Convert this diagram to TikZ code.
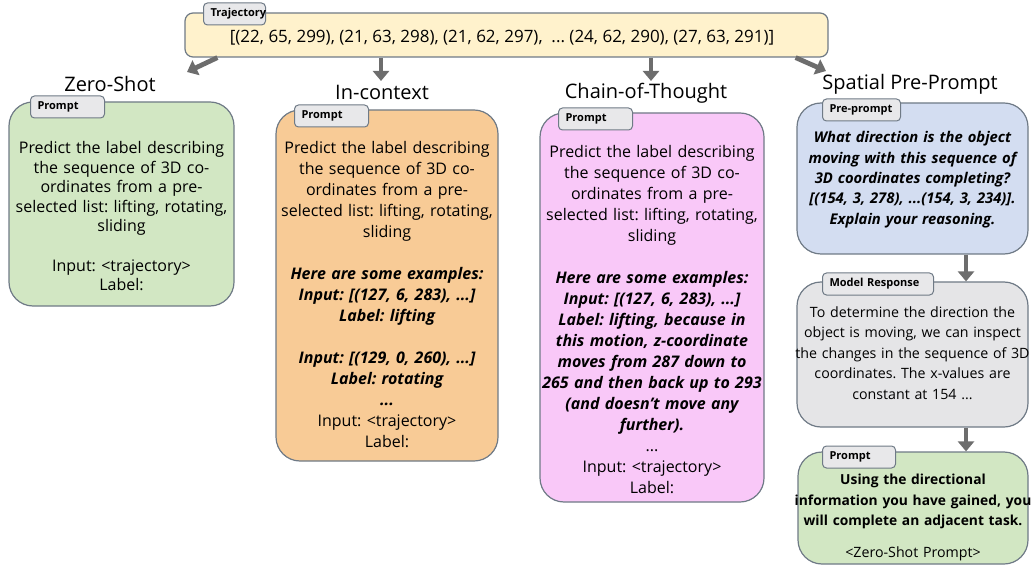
\documentclass[tikz,border=0pt]{standalone}
\usepackage{fontspec}
\setmainfont{Open Sans}
\frenchspacing
\usetikzlibrary{arrows.meta,fit,positioning}
\definecolor{trajfill}{HTML}{FFF2CC}
\definecolor{zsfill}{HTML}{D2E7C3}
\definecolor{icfill}{HTML}{F8CB96}
\definecolor{cotfill}{HTML}{F9C8F8}
\definecolor{spfill}{HTML}{D3DDF1}
\definecolor{mrfill}{HTML}{E5E5E7}
\definecolor{tagfill}{HTML}{E8E8EA}
\definecolor{boxline}{HTML}{6F7A86}
\definecolor{arrowgrey}{HTML}{6D6D6D}

\begin{document}
\begin{tikzpicture}[x=0.5pt,y=-0.5pt,% one unit is one pixel of the reference
    every node/.style={align=center, inner sep=0pt},
    box/.style={draw=boxline, line width=0.6pt, rounded corners=12pt, inner sep=0pt},
    tag/.style={draw=boxline, fill=tagfill, line width=0.5pt, rounded corners=2pt,
      anchor=west, align=left, inner xsep=3.5pt, minimum height=11pt,
      font=\fontsize{5.5}{7}\selectfont\bfseries},
    body/.style={anchor=north, text width=140pt,
      font=\fontsize{8}{10.5}\selectfont},
    side/.style={anchor=north, text width=140pt,
      font=\fontsize{7.1}{10.25}\selectfont},
    title/.style={font=\fontsize{10}{12}\selectfont},
    flow/.style={draw=arrowgrey, line width=2.4pt, -{Triangle[length=5pt,width=8pt]}}
  ]
  \useasboundingbox (0,0) rectangle (1031,566);

  % trajectory
  \node[box, fill=trajfill, rounded corners=4pt, fit={(185,13) (828,57)}] (traj) {};
  \node[font=\fontsize{8.5}{10}\selectfont] (trajtext) at (502,38)
    {[(22, 65, 299), (21, 63, 298), (21, 62, 297), \ ... (24, 62, 290), (27, 63, 291)]};
  \node[tag, text width=24pt] (trajtag) at (203,14) {Trajectory};

  % titles
  \node[title] (zstitle) at (110,84) {Zero-Shot};
  \node[title] (ictitle) at (382,92) {In-context};
  \node[title] (cottitle) at (646,93) {Chain-of-Thought};
  \node[title] (sptitle) at (910,84) {Spatial Pre-Prompt};

  % zero-shot
  \node[box, fill=zsfill, fit={(9,102) (234,306)}] (zs) {};
  \node[tag, text width=30pt] (zstag) at (30,107) {Prompt};
  \node[body, font=\fontsize{8}{9.8}\selectfont] (zstext) at (121.5,141)
    {Predict the label describing\\the sequence of 3D co-\\ordinates from a pre-\\selected list: lifting, rotating,\\sliding\\[9.8pt]
     Input: <trajectory>\\Label:};

  % in-context
  \node[box, fill=icfill, fit={(276,110) (498,461)}] (ic) {};
  \node[tag, text width=30pt] (ictag) at (294,116) {Prompt};
  \node[body] (ictext) at (387,141)
    {Predict the label describing\\the sequence of 3D co-\\ordinates from a pre-\\selected list: lifting, rotating,\\sliding\\[10.5pt]
     {\bfseries\itshape Here are some examples:\\Input: [(127, 6, 283), ...]\\Label: lifting\\[10.5pt]
     Input: [(129, 0, 260), ...]\\Label: rotating\\...}\\
     Input: <trajectory>\\Label:};

  % chain-of-thought
  \node[box, fill=cotfill, fit={(540,113) (764,502)}] (cot) {};
  \node[tag, text width=30pt] (cottag) at (558,119) {Prompt};
  \node[body] (cottext) at (652,145)
    {Predict the label describing\\the sequence of 3D co-\\ordinates from a pre-\\selected list: lifting, rotating,\\sliding\\[10.5pt]
     {\bfseries\itshape Here are some examples:\\Input: [(127, 6, 283), ...]\\Label: lifting, because in\\this motion, z-coordinate\\moves from 287 down to\\265 and then back up to 293\\(and doesn't move any\\further).}\\
     ...\\Input: <trajectory>\\Label:};

  % spatial pre-prompt column
  \node[box, fill=spfill, fit={(797,103) (1028,254)}] (sp) {};
  \node[tag, text width=32pt] (sptag) at (822,110) {Pre-prompt};
  \node[side, font=\fontsize{7.4}{10.2}\selectfont\bfseries\itshape] (sptext) at (912.5,131)
    {What direction is the object\\moving with this sequence of\\3D coordinates completing?\\{[}(154, 3, 278), ...(154, 3, 234)].\\Explain your reasoning.};

  \node[box, fill=mrfill, fit={(797,282) (1028,427)}] (mr) {};
  \node[tag, text width=48.5pt] (mrtag) at (822,284) {Model Response};
  \node[side] (mrtext) at (912.5,306)
    {To determine the direction the\\object is moving, we can inspect\\the changes in the sequence of 3D\\coordinates. The x-values are\\constant at 154 ...};

  \node[box, fill=zsfill, fit={(798,452) (1028,564)}] (bp) {};
  \node[tag, text width=29.5pt] (bptag) at (822,457) {Prompt};
  \node[side] (bptext) at (913,474)
    {\fontsize{6.9}{10.25}\selectfont\bfseries Using the directional\\information you have gained, you\\will complete an adjacent task.\\[5.5pt]
     \fontsize{7.1}{10.25}\selectfont\mdseries <Zero-Shot Prompt>};

  % connectors
  \coordinate (zsin) at (187,72);
  \coordinate (icin) at (381,81);
  \coordinate (cotin) at (651,81);
  \coordinate (spin) at (826,71);
  \coordinate (rcol) at (966,0);
  \path
    ([xshift=16.5pt]traj.south west) edge[flow] (zsin)
    (traj.south -| icin) edge[flow] (icin)
    (traj.south -| cotin) edge[flow] (cotin)
    ([xshift=-16.5pt]traj.south east) edge[flow] (spin)
    (sp.south -| rcol) edge[flow] (mr.north -| rcol)
    (mr.south -| rcol) edge[flow] (bp.north -| rcol)
    ;
\end{tikzpicture}
\end{document}
